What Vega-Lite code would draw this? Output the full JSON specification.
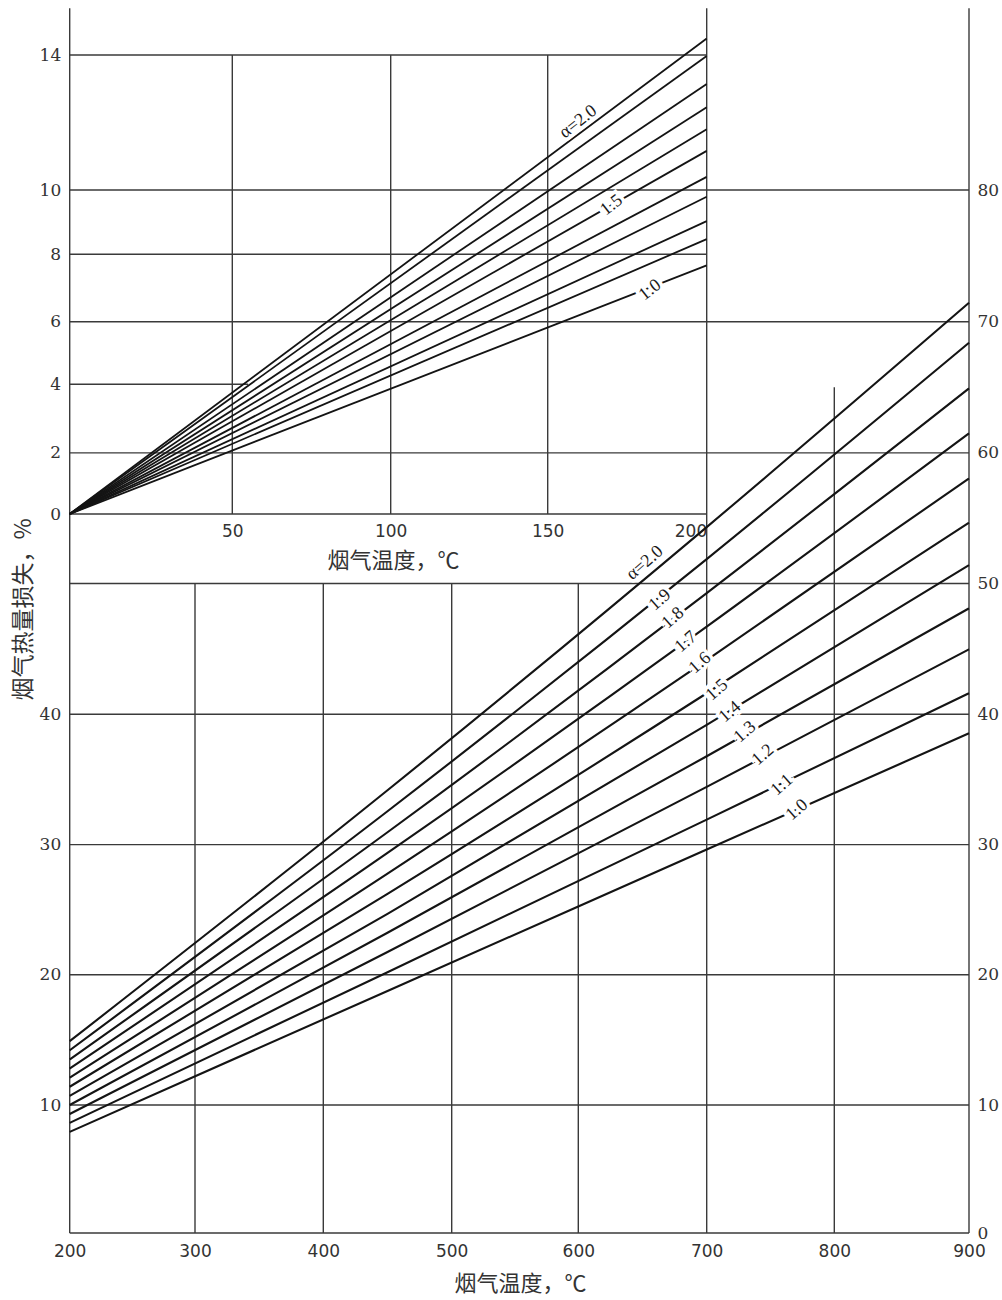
{
  "$schema": "https://vega.github.io/schema/vega-lite/v6.json",
  "width": 1002,
  "height": 1300,
  "autosize": {"type": "none"},
  "padding": 0,
  "background": "white",
  "config": {
    "view": {"stroke": null},
    "axis": {"grid": false, "domain": false, "ticks": false, "tickSize": 0, "labelColor": "#333333", "titleColor": "#333333", "titleFontWeight": "normal", "titleFont": "Noto Sans CJK SC", "labelFontSize": 17}
  },
  "datasets": {
    "mainH": [
      {"v": 0, "t1": 200, "t2": 900}, {"v": 10, "t1": 200, "t2": 900}, {"v": 20, "t1": 200, "t2": 900},
      {"v": 30, "t1": 200, "t2": 900}, {"v": 40, "t1": 200, "t2": 900}, {"v": 50, "t1": 200, "t2": 900},
      {"v": 60, "t1": 200, "t2": 900}, {"v": 70, "t1": 200, "t2": 900}, {"v": 80, "t1": 200, "t2": 900}
    ],
    "mainV": [
      {"t": 200, "v1": 0, "v2": 93.8}, {"t": 300, "v1": 0, "v2": 50}, {"t": 400, "v1": 0, "v2": 50},
      {"t": 500, "v1": 0, "v2": 50}, {"t": 600, "v1": 0, "v2": 50}, {"t": 700, "v1": 0, "v2": 93.8},
      {"t": 800, "v1": 0, "v2": 65}, {"t": 900, "v1": 0, "v2": 93.8}
    ],
    "mainLines": [
      {"a": "2.0", "t": 200, "v": 14.9}, {"a": "2.0", "t": 450, "v": 34.17}, {"a": "2.0", "t": 700, "v": 54.32}, {"a": "2.0", "t": 900, "v": 71.44},
      {"a": "1.9", "t": 200, "v": 14.2}, {"a": "1.9", "t": 450, "v": 32.56}, {"a": "1.9", "t": 700, "v": 51.87}, {"a": "1.9", "t": 900, "v": 68.40},
      {"a": "1.8", "t": 200, "v": 13.5}, {"a": "1.8", "t": 450, "v": 30.95}, {"a": "1.8", "t": 700, "v": 49.27}, {"a": "1.8", "t": 900, "v": 64.92},
      {"a": "1.7", "t": 200, "v": 12.8}, {"a": "1.7", "t": 450, "v": 29.36}, {"a": "1.7", "t": 700, "v": 46.70}, {"a": "1.7", "t": 900, "v": 61.49},
      {"a": "1.6", "t": 200, "v": 12.1}, {"a": "1.6", "t": 450, "v": 27.77}, {"a": "1.6", "t": 700, "v": 44.14}, {"a": "1.6", "t": 900, "v": 58.04},
      {"a": "1.5", "t": 200, "v": 11.4}, {"a": "1.5", "t": 450, "v": 26.21}, {"a": "1.5", "t": 700, "v": 41.61}, {"a": "1.5", "t": 900, "v": 54.65},
      {"a": "1.4", "t": 200, "v": 10.7}, {"a": "1.4", "t": 450, "v": 24.68}, {"a": "1.4", "t": 700, "v": 39.19}, {"a": "1.4", "t": 900, "v": 51.41},
      {"a": "1.3", "t": 200, "v": 10.0}, {"a": "1.3", "t": 450, "v": 23.23}, {"a": "1.3", "t": 700, "v": 36.78}, {"a": "1.3", "t": 900, "v": 48.10},
      {"a": "1.2", "t": 200, "v": 9.3}, {"a": "1.2", "t": 450, "v": 21.75}, {"a": "1.2", "t": 700, "v": 34.43}, {"a": "1.2", "t": 900, "v": 44.97},
      {"a": "1.1", "t": 200, "v": 8.6}, {"a": "1.1", "t": 450, "v": 20.20}, {"a": "1.1", "t": 700, "v": 31.92}, {"a": "1.1", "t": 900, "v": 41.61},
      {"a": "1.0", "t": 200, "v": 7.9}, {"a": "1.0", "t": 450, "v": 18.76}, {"a": "1.0", "t": 700, "v": 29.62}, {"a": "1.0", "t": 900, "v": 38.54}
    ],
    "mainLabels": [
      {"label": "α=2.0", "t": 651.9, "v": 51.57}, {"label": "1.9", "t": 663.6, "v": 48.74},
      {"label": "1.8", "t": 673.8, "v": 47.36}, {"label": "1.7", "t": 683.9, "v": 45.53},
      {"label": "1.6", "t": 694.8, "v": 43.92}, {"label": "1.5", "t": 708.1, "v": 41.86},
      {"label": "1.4", "t": 718.3, "v": 40.18}, {"label": "1.3", "t": 730.0, "v": 38.64},
      {"label": "1.2", "t": 744.1, "v": 36.88}, {"label": "1.1", "t": 759.0, "v": 34.57},
      {"label": "1.0", "t": 770.8, "v": 32.66}
    ],
    "insetH": [
      {"v": 0, "t1": 0, "t2": 200}, {"v": 4, "t1": 0, "t2": 55},
      {"v": 8, "t1": 0, "t2": 200}, {"v": 14, "t1": 0, "t2": 200}
    ],
    "insetV": [
      {"t": 50, "v1": 0, "v2": 14}, {"t": 100, "v1": 0, "v2": 14}, {"t": 150, "v1": 0, "v2": 14}
    ],
    "insetLines": [
      {"a": "2.0", "t": 0, "v": 0}, {"a": "2.0", "t": 200, "v": 14.49},
      {"a": "1.9", "t": 0, "v": 0}, {"a": "1.9", "t": 200, "v": 13.97},
      {"a": "1.8", "t": 0, "v": 0}, {"a": "1.8", "t": 200, "v": 13.14},
      {"a": "1.7", "t": 0, "v": 0}, {"a": "1.7", "t": 200, "v": 12.45},
      {"a": "1.6", "t": 0, "v": 0}, {"a": "1.6", "t": 200, "v": 11.8},
      {"a": "1.5", "t": 0, "v": 0}, {"a": "1.5", "t": 200, "v": 11.16},
      {"a": "1.4", "t": 0, "v": 0}, {"a": "1.4", "t": 200, "v": 10.39},
      {"a": "1.3", "t": 0, "v": 0}, {"a": "1.3", "t": 200, "v": 9.79},
      {"a": "1.2", "t": 0, "v": 0}, {"a": "1.2", "t": 200, "v": 9.03},
      {"a": "1.1", "t": 0, "v": 0}, {"a": "1.1", "t": 200, "v": 8.47},
      {"a": "1.0", "t": 0, "v": 0}, {"a": "1.0", "t": 200, "v": 7.67}
    ],
    "insetLabels": [
      {"label": "α=2.0", "t": 159.6, "v": 12.02},
      {"label": "1.5", "t": 170.1, "v": 9.53},
      {"label": "1.0", "t": 182.2, "v": 6.94}
    ]
  },
  "layer": [
    {
      "layer": [
        {
          "data": {"name": "mainH"},
          "mark": {"type": "rule", "stroke": "#3a3a3a", "strokeWidth": 1.4},
          "encoding": {
            "x": {"field": "t1", "type": "quantitative", "axis": null, "scale": {"type": "linear", "domain": [200, 300, 400, 500, 600, 700, 800, 900], "range": [69.7, 195, 323.3, 451.7, 578.3, 706.7, 834.3, 969], "nice": false, "zero": false}},
            "x2": {"field": "t2"},
            "y": {"field": "v", "type": "quantitative", "axis": null, "scale": {"type": "linear", "domain": [0, 10, 20, 30, 40, 50, 60, 70, 80], "range": [1233, 1105, 974.8, 844.6, 714.3, 583.5, 452.9, 321.7, 190], "nice": false, "zero": false}}
          }
        },
        {
          "data": {"name": "mainV"},
          "mark": {"type": "rule", "stroke": "#3a3a3a", "strokeWidth": 1.4},
          "encoding": {
            "x": {"field": "t", "type": "quantitative", "axis": null, "scale": {"type": "linear", "domain": [200, 300, 400, 500, 600, 700, 800, 900], "range": [69.7, 195, 323.3, 451.7, 578.3, 706.7, 834.3, 969], "nice": false, "zero": false}},
            "y": {"field": "v1", "type": "quantitative", "scale": {"type": "linear", "domain": [0, 10, 20, 30, 40, 50, 60, 70, 80], "range": [1233, 1105, 974.8, 844.6, 714.3, 583.5, 452.9, 321.7, 190], "nice": false, "zero": false},
              "axis": {"orient": "right", "offset": -33, "values": [0, 10, 20, 30, 40, 50, 60, 70, 80], "labelFont": "DejaVu Serif", "labelPadding": 8, "title": null}},
            "y2": {"field": "v2"}
          }
        },
        {
          "data": {"name": "mainLines"},
          "mark": {"type": "line", "stroke": "#141414", "strokeWidth": 2.1, "interpolate": "monotone"},
          "encoding": {
            "x": {"field": "t", "type": "quantitative", "scale": {"type": "linear", "domain": [200, 300, 400, 500, 600, 700, 800, 900], "range": [69.7, 195, 323.3, 451.7, 578.3, 706.7, 834.3, 969], "nice": false, "zero": false},
              "axis": {"orient": "bottom", "offset": -67, "values": [200, 300, 400, 500, 600, 700, 800, 900], "labelFont": "DejaVu Sans", "labelPadding": 10, "labelFlush": false, "title": "烟气温度，℃", "titleFontSize": 22, "titleX": 520, "titleY": 50, "titleAlign": "center", "titleBaseline": "middle"}},
            "y": {"field": "v", "type": "quantitative", "scale": {"type": "linear", "domain": [0, 10, 20, 30, 40, 50, 60, 70, 80], "range": [1233, 1105, 974.8, 844.6, 714.3, 583.5, 452.9, 321.7, 190], "nice": false, "zero": false},
              "axis": {"orient": "left", "offset": -69.7, "values": [10, 20, 30, 40], "labelFont": "DejaVu Serif", "labelPadding": 9, "title": "烟气热量损失，%", "titleFontSize": 23, "titleAngle": 270, "titleX": -46, "titleY": 609, "titleAlign": "center", "titleBaseline": "middle"}},
            "detail": {"field": "a", "type": "nominal"}
          }
        },
        {
          "data": {"name": "mainLabels"},
          "mark": {"type": "text", "font": "Liberation Serif", "fontSize": 18, "angle": 319, "align": "center", "baseline": "middle", "fill": "white", "stroke": "white", "strokeWidth": 7},
          "encoding": {
            "x": {"field": "t", "type": "quantitative", "axis": null, "scale": {"type": "linear", "domain": [200, 300, 400, 500, 600, 700, 800, 900], "range": [69.7, 195, 323.3, 451.7, 578.3, 706.7, 834.3, 969], "nice": false, "zero": false}},
            "y": {"field": "v", "type": "quantitative", "axis": null, "scale": {"type": "linear", "domain": [0, 10, 20, 30, 40, 50, 60, 70, 80], "range": [1233, 1105, 974.8, 844.6, 714.3, 583.5, 452.9, 321.7, 190], "nice": false, "zero": false}},
            "text": {"field": "label"}
          }
        },
        {
          "data": {"name": "mainLabels"},
          "mark": {"type": "text", "font": "Liberation Serif", "fontSize": 18, "angle": 319, "align": "center", "baseline": "middle", "fill": "#1a1a1a"},
          "encoding": {
            "x": {"field": "t", "type": "quantitative", "axis": null, "scale": {"type": "linear", "domain": [200, 300, 400, 500, 600, 700, 800, 900], "range": [69.7, 195, 323.3, 451.7, 578.3, 706.7, 834.3, 969], "nice": false, "zero": false}},
            "y": {"field": "v", "type": "quantitative", "axis": null, "scale": {"type": "linear", "domain": [0, 10, 20, 30, 40, 50, 60, 70, 80], "range": [1233, 1105, 974.8, 844.6, 714.3, 583.5, 452.9, 321.7, 190], "nice": false, "zero": false}},
            "text": {"field": "label"}
          }
        }
      ],
      "resolve": {"axis": {"x": "independent", "y": "independent"}}
    },
    {
      "layer": [
        {
          "data": {"name": "insetH"},
          "mark": {"type": "rule", "stroke": "#3a3a3a", "strokeWidth": 1.4},
          "encoding": {
            "x": {"field": "t1", "type": "quantitative", "axis": null, "scale": {"type": "linear", "domain": [0, 50, 100, 150, 200], "range": [69.7, 232.3, 390.7, 547.7, 706.7], "nice": false, "zero": false}},
            "x2": {"field": "t2"},
            "y": {"field": "v", "type": "quantitative", "axis": null, "scale": {"type": "linear", "domain": [0, 2, 4, 6, 8, 10, 14], "range": [514, 452.9, 384.3, 321.7, 254.3, 190, 55], "nice": false, "zero": false}}
          }
        },
        {
          "data": {"name": "insetV"},
          "mark": {"type": "rule", "stroke": "#3a3a3a", "strokeWidth": 1.4},
          "encoding": {
            "x": {"field": "t", "type": "quantitative", "axis": null, "scale": {"type": "linear", "domain": [0, 50, 100, 150, 200], "range": [69.7, 232.3, 390.7, 547.7, 706.7], "nice": false, "zero": false}},
            "y": {"field": "v1", "type": "quantitative", "axis": null, "scale": {"type": "linear", "domain": [0, 2, 4, 6, 8, 10, 14], "range": [514, 452.9, 384.3, 321.7, 254.3, 190, 55], "nice": false, "zero": false}},
            "y2": {"field": "v2"}
          }
        },
        {
          "data": {"name": "insetLines"},
          "mark": {"type": "line", "stroke": "#141414", "strokeWidth": 1.8},
          "encoding": {
            "x": {"field": "t", "type": "quantitative", "scale": {"type": "linear", "domain": [0, 50, 100, 150, 200], "range": [69.7, 232.3, 390.7, 547.7, 706.7], "nice": false, "zero": false},
              "axis": {"orient": "bottom", "offset": -786, "values": [50, 100, 150, 200], "labelFont": "DejaVu Sans", "labelPadding": 9, "labelFlush": true, "title": "烟气温度，℃", "titleFontSize": 22, "titleX": 393, "titleY": 46, "titleAlign": "center", "titleBaseline": "middle"}},
            "y": {"field": "v", "type": "quantitative", "scale": {"type": "linear", "domain": [0, 2, 4, 6, 8, 10, 14], "range": [514, 452.9, 384.3, 321.7, 254.3, 190, 55], "nice": false, "zero": false},
              "axis": {"orient": "left", "offset": -69.7, "values": [0, 2, 4, 6, 8, 10, 14], "labelFont": "DejaVu Serif", "labelPadding": 9, "title": null}},
            "detail": {"field": "a", "type": "nominal"}
          }
        },
        {
          "data": {"name": "insetLabels"},
          "mark": {"type": "text", "font": "Liberation Serif", "fontSize": 18, "angle": 322, "align": "center", "baseline": "middle", "fill": "white", "stroke": "white", "strokeWidth": 7},
          "encoding": {
            "x": {"field": "t", "type": "quantitative", "axis": null, "scale": {"type": "linear", "domain": [0, 50, 100, 150, 200], "range": [69.7, 232.3, 390.7, 547.7, 706.7], "nice": false, "zero": false}},
            "y": {"field": "v", "type": "quantitative", "axis": null, "scale": {"type": "linear", "domain": [0, 2, 4, 6, 8, 10, 14], "range": [514, 452.9, 384.3, 321.7, 254.3, 190, 55], "nice": false, "zero": false}},
            "text": {"field": "label"}
          }
        },
        {
          "data": {"name": "insetLabels"},
          "mark": {"type": "text", "font": "Liberation Serif", "fontSize": 18, "angle": 322, "align": "center", "baseline": "middle", "fill": "#1a1a1a"},
          "encoding": {
            "x": {"field": "t", "type": "quantitative", "axis": null, "scale": {"type": "linear", "domain": [0, 50, 100, 150, 200], "range": [69.7, 232.3, 390.7, 547.7, 706.7], "nice": false, "zero": false}},
            "y": {"field": "v", "type": "quantitative", "axis": null, "scale": {"type": "linear", "domain": [0, 2, 4, 6, 8, 10, 14], "range": [514, 452.9, 384.3, 321.7, 254.3, 190, 55], "nice": false, "zero": false}},
            "text": {"field": "label"}
          }
        }
      ],
      "resolve": {"axis": {"x": "independent", "y": "independent"}}
    }
  ],
  "resolve": {"scale": {"x": "independent", "y": "independent"}}
}
